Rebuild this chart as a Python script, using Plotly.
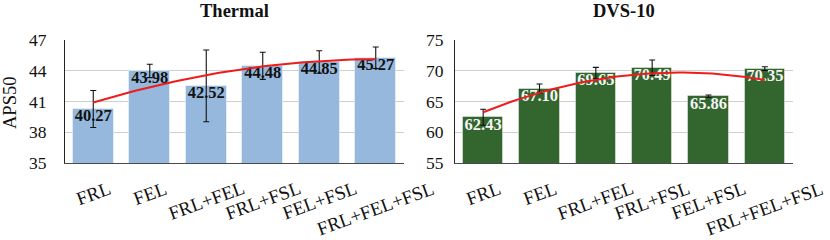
import numpy as np
import plotly.graph_objects as go

categories = ["FRL", "FEL", "FRL+FEL", "FRL+FSL", "FEL+FSL", "FRL+FEL+FSL"]
thermal_vals = [40.27, 43.98, 42.52, 44.48, 44.85, 45.27]
thermal_err = [1.8, 0.65, 3.5, 1.32, 1.1, 1.05]
dvs_vals = [62.43, 67.10, 69.65, 70.49, 65.86, 70.35]
dvs_err = [1.3, 0.75, 0.9, 1.26, 0.2, 0.3]
thermal_ticks = [35, 38, 41, 44, 47]
dvs_ticks = [55, 60, 65, 70, 75]

W, H = 830, 240
SERIF = "Liberation Serif"

x_idx = list(range(len(categories)))

def px_x(p):
    return p / W

def px_y(p):
    return 1 - p / H

fig = go.Figure()

panels = [
    dict(vals=thermal_vals, err=thermal_err, color="#95b8dc", txt="#111111",
         xa="x", ya="y", xaxis="xaxis", yaxis="yaxis", title="Thermal",
         dom=(65, 404), rng=[35, 47], ticks=thermal_ticks, stand=14),
    dict(vals=dvs_vals, err=dvs_err, color="#33652e", txt="#f4f4f4",
         xa="x2", ya="y2", xaxis="xaxis2", yaxis="yaxis2", title="DVS-10",
         dom=(455, 793), rng=[55, 75], ticks=dvs_ticks, stand=7),
]

top_px, bot_px = 40, 163
annotations = []
layout_axes = {}
for p in panels:
    fig.add_trace(go.Bar(
        x=x_idx, y=p["vals"], width=0.72, marker=dict(color=p["color"],
        line=dict(color="rgba(255,255,255,0.45)", width=1)),
        xaxis=p["xa"], yaxis=p["ya"], showlegend=False, hoverinfo="skip"))
    fig.add_trace(go.Scatter(
        x=x_idx, y=p["vals"], mode="text",
        text=[f"<b>{v:.2f}</b>" for v in p["vals"]], textposition="bottom center",
        textfont=dict(family=SERIF, size=16.5, color=p["txt"]),
        xaxis=p["xa"], yaxis=p["ya"], showlegend=False, hoverinfo="skip"))
    fig.add_trace(go.Scatter(
        x=x_idx, y=p["vals"], mode="markers", marker=dict(size=0.1, opacity=0),
        error_y=dict(type="data", array=p["err"], color="#111111", thickness=1.1, width=3),
        xaxis=p["xa"], yaxis=p["ya"], showlegend=False, hoverinfo="skip"))
    coef = np.polyfit(x_idx, p["vals"], 2)
    xs = np.linspace(0, len(categories) - 1, 60)
    fig.add_trace(go.Scatter(
        x=xs, y=np.polyval(coef, xs), mode="lines",
        line=dict(color="#ee1c1c", width=2),
        xaxis=p["xa"], yaxis=p["ya"], showlegend=False, hoverinfo="skip"))

    dom = [px_x(p["dom"][0]), px_x(p["dom"][1])]
    layout_axes[p["xaxis"]] = dict(
        domain=dom, range=[-0.5, len(categories) - 0.5], showticklabels=False,
        showgrid=False, zeroline=False, showline=True, linecolor="#4a4a4a",
        linewidth=1.4, anchor=p["ya"], fixedrange=True, automargin=False, ticks="")
    layout_axes[p["yaxis"]] = dict(
        domain=[px_y(bot_px), px_y(top_px)], range=p["rng"], tickvals=p["ticks"],
        showgrid=True, gridcolor="#cfcfcf", gridwidth=1, zeroline=False,
        showline=True, linecolor="#222222", linewidth=1.1, anchor=p["xa"],
        ticklabelstandoff=p["stand"], automargin=False, ticks="",
        tickfont=dict(family=SERIF, size=17.5, color="#111111"), fixedrange=True)

    cx = (p["dom"][0] + p["dom"][1]) / 2
    annotations.append(dict(
        text=f"<b>{p['title']}</b>", x=px_x(cx), y=px_y(11), xref="paper", yref="paper",
        xanchor="center", yanchor="middle", showarrow=False,
        font=dict(family=SERIF, size=18.5, color="#111111")))
    for i, c in enumerate(categories):
        annotations.append(dict(
            text=c, x=i, y=px_y(bot_px), xref=p["xa"], yref="paper",
            xanchor="center", yanchor="top", yshift=-12, textangle=-20,
            showarrow=False, font=dict(family=SERIF, size=19, color="#111111")))

annotations.append(dict(
    text="APS50", x=px_x(10), y=px_y(103), xref="paper", yref="paper",
    xanchor="center", yanchor="middle", textangle=-90, showarrow=False,
    font=dict(family=SERIF, size=18.5, color="#111111")))

fig.update_layout(
    template="none",
    width=W, height=H, autosize=False,
    margin=dict(l=0, r=0, t=0, b=0, pad=0),
    paper_bgcolor="white", plot_bgcolor="white",
    bargap=0, annotations=annotations, **layout_axes)

fig.write_html(
    "out.html",
    config={"displayModeBar": False, "responsive": False},
    post_script="document.body.style.margin='0';document.body.style.padding='0';"
                "document.documentElement.style.margin='0';document.body.style.overflow='hidden';",
)
